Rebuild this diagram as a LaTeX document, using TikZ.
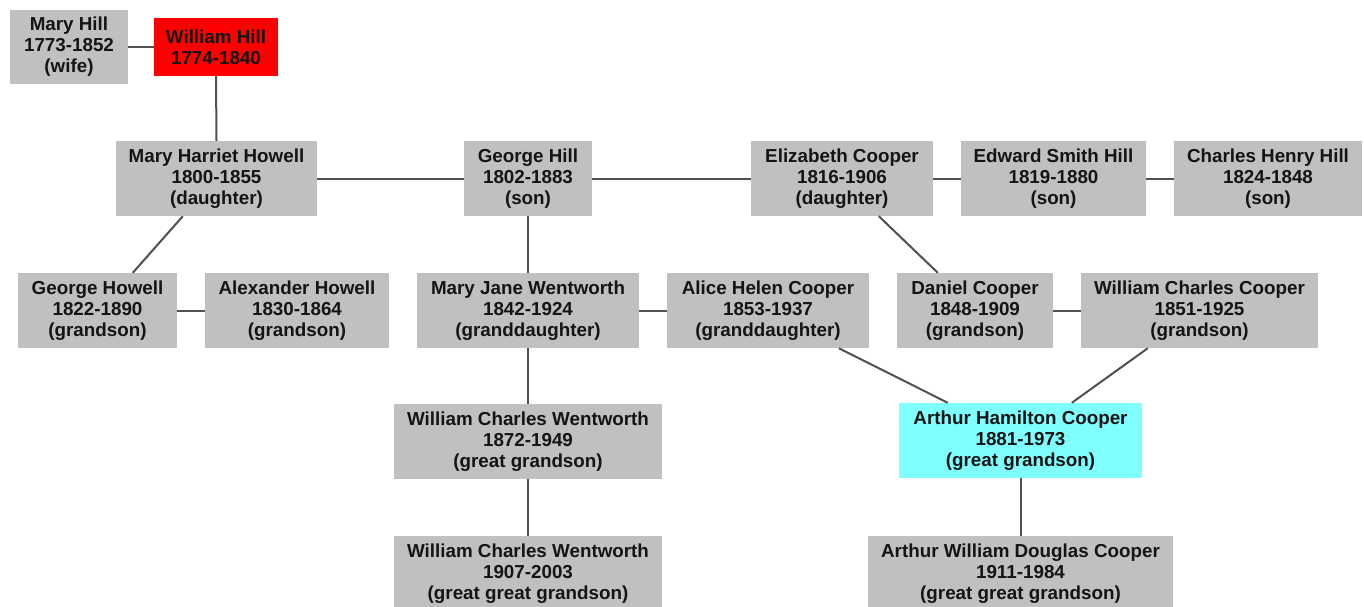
\documentclass[tikz,border=0pt]{standalone}
\usepackage{fontspec}
\setmainfont{Liberation Sans}
\definecolor{boxgrey}{RGB}{192,192,192}
\definecolor{boxred}{RGB}{255,0,0}
\definecolor{boxcyan}{RGB}{128,255,255}
\definecolor{linegrey}{RGB}{80,80,80}
\definecolor{txt}{RGB}{20,20,20}
\tikzset{
  person/.style={fill=boxgrey, draw=none, inner sep=0pt, align=center, text=txt,
    font=\bfseries\fontsize{18.8}{21}\selectfont},
  link/.style={draw=linegrey, line width=2pt}
}
\begin{document}
\begin{tikzpicture}[x=1pt,y=-1pt]
\useasboundingbox (0,0) rectangle (1364,607);
\fill[white] (0,0) rectangle (1364,607);
\begin{scope}
\clip (0,0) rectangle (1364,607);
% row 0
\node[person, minimum width=118pt, minimum height=74pt] (maryhill) at (69,47) {Mary Hill\\1773-1852\\(wife)};
\node[person, fill=boxred, minimum width=124pt, minimum height=58pt] (william) at (216,47) {William Hill\\1774-1840};
% row 1
\node[person, minimum width=201pt, minimum height=75pt] (mhh) at (216.5,178.5) {Mary Harriet Howell\\1800-1855\\(daughter)};
\node[person, minimum width=128pt, minimum height=75pt] (george) at (528,178.5) {George Hill\\1802-1883\\(son)};
\node[person, minimum width=182pt, minimum height=75pt] (elizabeth) at (842,178.5) {Elizabeth Cooper\\1816-1906\\(daughter)};
\node[person, minimum width=185pt, minimum height=75pt] (edward) at (1053.5,178.5) {Edward Smith Hill\\1819-1880\\(son)};
\node[person, minimum width=188pt, minimum height=75pt] (charles) at (1268,178.5) {Charles Henry Hill\\1824-1848\\(son)};
% row 2
\node[person, minimum width=159pt, minimum height=75pt] (georgeh) at (97.5,310.5) {George Howell\\1822-1890\\(grandson)};
\node[person, minimum width=184pt, minimum height=75pt] (alexander) at (297,310.5) {Alexander Howell\\1830-1864\\(grandson)};
\node[person, minimum width=222pt, minimum height=75pt] (maryjane) at (528,310.5) {Mary Jane Wentworth\\1842-1924\\(granddaughter)};
\node[person, minimum width=202pt, minimum height=75pt] (alice) at (768,310.5) {Alice Helen Cooper\\1853-1937\\(granddaughter)};
\node[person, minimum width=156pt, minimum height=75pt] (daniel) at (975,310.5) {Daniel Cooper\\1848-1909\\(grandson)};
\node[person, minimum width=237pt, minimum height=75pt] (wcc) at (1199.5,310.5) {William Charles Cooper\\1851-1925\\(grandson)};
% row 3
\node[person, minimum width=268pt, minimum height=75pt] (wcw) at (528,441.5) {William Charles Wentworth\\1872-1949\\(great grandson)};
\node[person, fill=boxcyan, minimum width=243pt, minimum height=75pt] (arthur) at (1020.5,440.5) {Arthur Hamilton Cooper\\1881-1973\\(great grandson)};
% row 4
\node[person, minimum width=268pt, minimum height=75pt] (wcw2) at (528,573.5) {William Charles Wentworth\\1907-2003\\(great great grandson)};
\node[person, minimum width=305pt, minimum height=75pt] (awdc) at (1020.5,573.5) {Arthur William Douglas Cooper\\1911-1984\\(great great grandson)};
% links
\draw[link] (maryhill.east) -- (william.west);
\draw[link] (william.south) -- (mhh.north);
\draw[link] (mhh.east) -- (george.west);
\draw[link] (george.east) -- (elizabeth.west);
\draw[link] (elizabeth.east) -- (edward.west);
\draw[link] (edward.east) -- (charles.west);
\draw[link] ([xshift=67pt]mhh.south west) -- ([xshift=115pt]georgeh.north west);
\draw[link] (georgeh.east) -- (alexander.west);
\draw[link] (george.south) -- (maryjane.north);
\draw[link] (maryjane.east) -- (alice.west);
\draw[link] ([xshift=128pt]elizabeth.south west) -- ([xshift=41pt]daniel.north west);
\draw[link] (daniel.east) -- (wcc.west);
\draw[link] ([xshift=172pt]alice.south west) -- ([xshift=49pt]arthur.north west);
\draw[link] ([xshift=67pt]wcc.south west) -- ([xshift=173pt]arthur.north west);
\draw[link] (maryjane.south) -- (wcw.north);
\draw[link] (wcw.south) -- (wcw2.north);
\draw[link] (arthur.south) -- (awdc.north);
\end{scope}
\end{tikzpicture}
\end{document}
